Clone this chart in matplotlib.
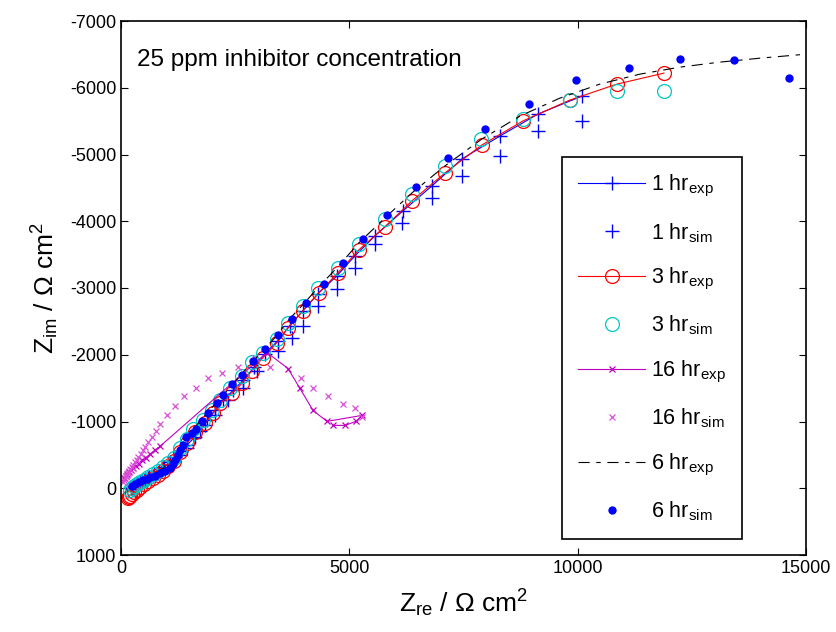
import numpy as np
import matplotlib.pyplot as plt

plt.rcParams['font.family'] = ['Liberation Sans', 'DejaVu Sans']
plt.rcParams['mathtext.fontset'] = 'custom'
plt.rcParams['mathtext.rm'] = 'Liberation Sans'
plt.rcParams['mathtext.it'] = 'Liberation Sans:italic'
plt.rcParams['axes.unicode_minus'] = False

# 1 hr
hr1_exp_re = [230, 270, 320, 380, 450, 530, 620, 720, 830, 950, 1070, 1190, 1320, 1450, 1590, 1740,
              1883, 2058, 2233, 2452, 2671, 2912, 3153, 3438, 3700, 3985, 4314, 4730, 5124, 5562,
              6175, 6810, 7467, 8299, 9131, 10094]
hr1_exp_im = [10, -15, -45, -75, -105, -135, -170, -210, -260, -320, -390, -470, -560, -650, -750, -860,
              -1017, -1166, -1316, -1465, -1615, -1809, -2018, -2213, -2437, -2661, -2915, -3184, -3483, -3782,
              -4156, -4530, -4934, -5277, -5606, -5875]
hr1_sim_re = [240, 290, 350, 420, 500, 590, 690, 800, 920, 1040, 1170, 1300, 1440, 1620, 1839, 2058,
              2343, 2671, 2978, 3438, 3744, 3985, 4314, 4730, 5124, 5562, 6153, 6810, 7467, 8299, 9131, 10094]
hr1_sim_im = [0, -30, -60, -90, -120, -150, -190, -235, -290, -350, -420, -500, -600, -762, -942, -1091,
              -1316, -1495, -1764, -2063, -2257, -2437, -2736, -2990, -3304, -3663, -3977, -4350, -4679, -4978,
              -5352, -5502]

# 3 hr
hr3_exp_re = [150, 170, 200, 240, 290, 350, 420, 500, 590, 690, 800, 920, 1040, 1170, 1300, 1450, 1620,
              1839, 2014, 2168, 2430, 2649, 2868, 3109, 3416, 3657, 3985, 4335, 4751, 5211, 5781,
              6372, 7094, 7904, 8802, 9831, 10861, 11890]
hr3_exp_im = [150, 130, 110, 85, 55, 20, -20, -60, -105, -150, -200, -260, -330, -410, -540, -680, -837,
              -972, -1121, -1271, -1420, -1570, -1764, -1958, -2183, -2407, -2661, -2930, -3229, -3573, -3917,
              -4306, -4724, -5143, -5503, -5816, -6055, -6219]
hr3_sim_re = [200, 240, 290, 350, 420, 500, 590, 690, 800, 920, 1040, 1170, 1300, 1440, 1577, 1795,
              1993, 2168, 2387, 2649, 2868, 3109, 3416, 3657, 3985, 4314, 4751, 5211, 5781, 6372,
              7094, 7883, 8802, 9831, 10861, 11890]
hr3_sim_im = [30, 0, -30, -60, -95, -130, -170, -215, -265, -320, -385, -460, -600, -740, -890, -1017,
              -1166, -1316, -1495, -1689, -1884, -2033, -2243, -2482, -2736, -3005, -3304, -3663, -4037, -4410,
              -4829, -5233, -5532, -5816, -5950, -5950]

# 16 hr
hr16_exp_re = [66, 100, 131, 175, 219, 270, 328, 390, 460, 540, 635, 740, 854,
               3197, 3657, 3919, 4204, 4510, 5277, 5146, 4905, 4642]
hr16_exp_im = [-150, -180, -209, -240, -269, -300, -329, -370, -419, -460, -508, -570, -628,
               -2033, -1794, -1495, -1166, -1002, -1091, -1002, -942, -942]
hr16_sim_re = [50, 70, 90, 110, 130, 153, 175, 200, 230, 265, 300, 340, 380, 430, 480, 526, 600, 679,
               760, 854, 1007, 1182, 1379, 1642, 1905, 2211, 2562, 2934, 3263, 3941, 4204, 4533,
               4861, 5124, 5277]
hr16_sim_im = [-100, -130, -160, -185, -205, -230, -255, -285, -315, -350, -390, -430, -475, -520, -570,
               -620, -690, -770, -860, -960, -1091, -1226, -1375, -1495, -1645, -1734, -1809, -1958,
               -1809, -1659, -1495, -1375, -1256, -1196, -1061]

# 6 hr
hr6_exp_re = [230, 280, 340, 420, 510, 620, 740, 870, 1010, 1160, 1320, 1480, 1598, 1795, 1993, 2190,
              2409, 2628, 2868, 3109, 3394, 3657, 3985, 4314, 4751, 5211, 5781, 6372, 7094, 7905,
              8737, 9612, 10488, 11364, 12240, 13116, 13992, 15000]
hr6_exp_im = [0, -30, -60, -95, -130, -170, -220, -280, -350, -440, -600, -760, -900, -1061, -1211, -1360,
              -1525, -1704, -1884, -2063, -2272, -2512, -2751, -3005, -3319, -3678, -4051, -4425, -4829, -5233,
              -5576, -5845, -6055, -6204, -6309, -6384, -6443, -6503]
hr6_sim_re = [241, 307, 400, 482, 560, 635, 740, 854, 960, 1073, 1130, 1182, 1240, 1292, 1350, 1423,
              1555, 1642, 1774, 1905, 2102, 2233, 2430, 2649, 2890, 3153, 3438, 3744, 4051, 4445,
              4861, 5299, 5824, 6459, 7160, 7970, 8934, 9963, 11123, 12240, 13422, 14627]
hr6_sim_im = [-30, -60, -90, -120, -140, -164, -190, -224, -260, -299, -360, -430, -493, -570, -643, -762,
              -822, -882, -1002, -1121, -1271, -1390, -1555, -1704, -1899, -2093, -2302, -2542, -2773, -3065,
              -3371, -3738, -4096, -4519, -4953, -5387, -5760, -6119, -6294, -6433, -6414, -6149]

fig = plt.figure(figsize=(8.36, 6.32), dpi=100)
ax = fig.add_axes([121/836, 1-555/632, 685/836, 534/632])

cyan = (0.0, 0.78, 0.78)
mag = (0.75, 0.0, 0.75)
mag_l = (0.85, 0.3, 0.85)

ax.plot(hr1_exp_re, hr1_exp_im, color='b', ls='-', lw=0.8, marker='+', ms=10, mew=1.0,
        label=r'1 hr$_{\mathrm{exp}}$')
ax.plot(hr1_sim_re, hr1_sim_im, color='b', ls='none', marker='+', ms=10, mew=1.0,
        label=r'1 hr$_{\mathrm{sim}}$')
ax.plot(hr3_exp_re, hr3_exp_im, color='r', ls='-', lw=0.8, marker='o', ms=10, mfc='none', mew=0.9,
        label=r'3 hr$_{\mathrm{exp}}$')
ax.plot(hr3_sim_re, hr3_sim_im, color=cyan, ls='none', marker='o', ms=10, mfc='none', mew=0.9,
        label=r'3 hr$_{\mathrm{sim}}$')
ax.plot(hr16_exp_re, hr16_exp_im, color=mag, ls='-', lw=0.8, marker='x', ms=4, mew=0.9,
        label=r'16 hr$_{\mathrm{exp}}$')
ax.plot(hr16_sim_re, hr16_sim_im, color=mag_l, ls='none', marker='x', ms=5, mew=0.9,
        label=r'16 hr$_{\mathrm{sim}}$')
ax.plot(hr6_exp_re, hr6_exp_im, color='k', lw=0.8, ls=(0, (10, 6, 4, 6)),
        label=r'6 hr$_{\mathrm{exp}}$')
ax.plot(hr6_sim_re, hr6_sim_im, color='b', ls='none', marker='o', ms=6, mew=0,
        label=r'6 hr$_{\mathrm{sim}}$')

ax.set_xlim(0, 15000)
ax.set_ylim(1000, -7000)
ax.set_xticks([0, 5000, 10000, 15000])
ax.set_yticks(np.arange(-7000, 1001, 1000))
ax.tick_params(direction='in', top=True, right=True, length=5, width=0.8, labelsize=13)
for s in ax.spines.values():
    s.set_linewidth(1.2)

ax.set_xlabel(r'Z$_{\mathrm{re}}$ / Ω cm$^{2}$', fontsize=19, labelpad=8)
ax.set_ylabel(r'Z$_{\mathrm{im}}$ / Ω cm$^{2}$', fontsize=19, labelpad=6)
ax.text(0.023, 0.927, '25 ppm inhibitor concentration', transform=ax.transAxes,
        fontsize=17.5, va='center', ha='left')

leg = ax.legend(loc='upper left', bbox_to_anchor=(0.644, 0.745), fontsize=15.5,
                frameon=True, fancybox=False, framealpha=1, edgecolor='k',
                handlelength=3.1, handletextpad=0.3, labelspacing=1.0, borderpad=0.75,
                borderaxespad=0)
leg.get_frame().set_linewidth(1.2)

fig.savefig('out.png', dpi=100)
